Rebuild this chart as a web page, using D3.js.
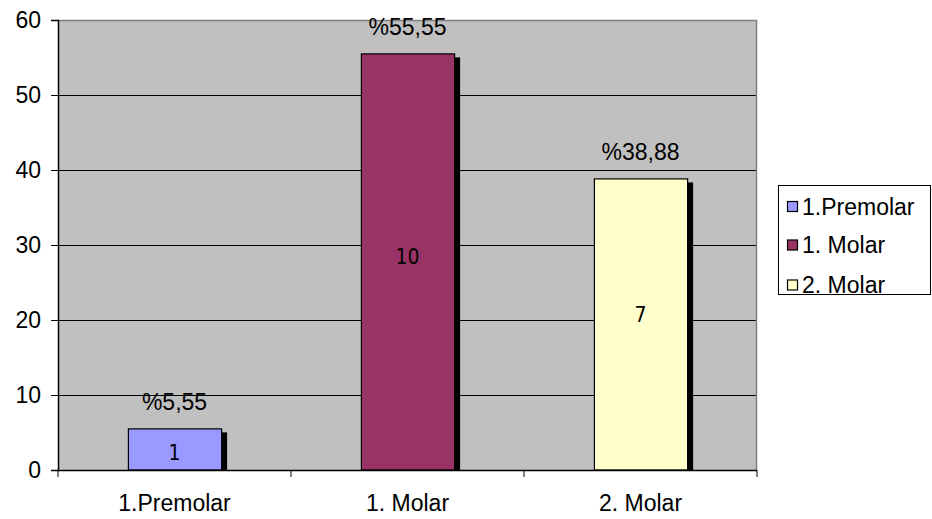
<!DOCTYPE html>
<html><head><meta charset="utf-8">
<script src="https://cdn.jsdelivr.net/npm/d3@7"></script>
<style>body{margin:0;background:#fff}svg{display:block}</style>
</head><body>
<svg id="c" width="932" height="519"></svg>
<script>
const categories = ["1.Premolar", "1. Molar", "2. Molar"];
const values = [5.55, 55.55, 38.88];
const percentLabels = ["%5,55", "%55,55", "%38,88"];
const countLabels = ["1", "10", "7"];
const countLabelPos = [2.3, 28.5, 20.7];
const colors = ["#9999FF", "#993366", "#FFFFCC"];
const yTicks = [0, 10, 20, 30, 40, 50, 60];

const svg = d3.select("#c");
const L = 58, R = 757, T = 20, B = 470;
const x = d3.scaleBand().domain(categories).range([L, R]).paddingInner(0.6).paddingOuter(0.3);
const xb = d3.scaleBand().domain(categories).range([L, R]);
const y = d3.scaleLinear().domain([0, 60]).range([B, T]);
const font = "Liberation Sans, Arial, sans-serif";

svg.append("rect").attr("x", L).attr("y", T).attr("width", R - L).attr("height", B - T).attr("fill", "#C0C0C0");
// gridlines
svg.append("g").selectAll("line").data(yTicks.filter(t => t > 0 && t < 60)).join("line")
  .attr("x1", L).attr("x2", R).attr("y1", d => y(d) + 0.5).attr("y2", d => y(d) + 0.5)
  .attr("stroke", "#000").attr("stroke-width", 1);
// top and right border
svg.append("path").attr("d", `M${L},${T + 0.5}H${R - 0.5}V${B}`).attr("fill", "none").attr("stroke", "#808080").attr("stroke-width", 1.5);

// shadows
svg.append("g").selectAll("rect").data(categories).join("rect")
  .attr("x", d => x(d) + 6).attr("y", (d, i) => y(values[i]) + 4)
  .attr("width", x.bandwidth()).attr("height", (d, i) => B - y(values[i]) - 4)
  .attr("fill", "#000");
// bars
svg.append("g").selectAll("rect").data(categories).join("rect")
  .attr("x", d => x(d) + 0.5).attr("y", (d, i) => y(values[i]) + 0.5)
  .attr("width", x.bandwidth()).attr("height", (d, i) => B - y(values[i]) - 0.5)
  .attr("fill", (d, i) => colors[i]).attr("stroke", "#000").attr("stroke-width", 1.2);

// axes
const yAxis = d3.axisLeft(y).tickValues(yTicks).tickSize(7).tickPadding(10);
const gy = svg.append("g").attr("transform", `translate(${L},0)`).call(yAxis);
gy.select(".domain").attr("stroke", "#000").attr("stroke-width", 1.5);
gy.selectAll(".tick line").attr("stroke", "#000");
gy.selectAll("text").attr("font-family", font).attr("font-size", 23).attr("fill", "#000");

const gx = svg.append("g").attr("transform", `translate(0,${B})`);
gx.append("line").attr("x1", L).attr("x2", R).attr("y1", 0.5).attr("y2", 0.5).attr("stroke", "#000").attr("stroke-width", 1.5);
gx.selectAll("line.t").data(d3.range(categories.length + 1)).join("line").attr("class", "t")
  .attr("x1", i => L + xb.step() * i).attr("x2", i => L + xb.step() * i)
  .attr("y1", 0).attr("y2", 7).attr("stroke", "#000");
gx.selectAll("text").data(categories).join("text")
  .attr("x", d => xb(d) + xb.bandwidth() / 2).attr("y", 41)
  .attr("text-anchor", "middle").attr("font-family", font).attr("font-size", 23).text(d => d);

// percent labels
svg.append("g").selectAll("text").data(categories).join("text")
  .attr("x", d => x(d) + x.bandwidth() / 2).attr("y", (d, i) => y(values[i]) - 18)
  .attr("text-anchor", "middle").attr("font-family", font).attr("font-size", 23).attr("fill", "#000")
  .text((d, i) => percentLabels[i]);
// count labels
svg.append("g").selectAll("text").data(categories).join("text")
  .attr("x", d => x(d) + x.bandwidth() / 2).attr("y", (d, i) => y(countLabelPos[i]))
  .attr("dy", "0.36em")
  .attr("text-anchor", "middle").attr("font-family", "DejaVu Sans Condensed, DejaVu Sans, sans-serif").attr("font-size", 21).attr("fill", "#000")
  .text((d, i) => countLabels[i]);

// legend
const lg = svg.append("g");
lg.append("rect").attr("x", 778.5).attr("y", 185.5).attr("width", 152).attr("height", 109).attr("fill", "#fff").attr("stroke", "#000");
const rowY = [206.5, 245, 285];
lg.selectAll("rect.s").data(categories).join("rect").attr("class", "s")
  .attr("x", 787.5).attr("y", (d, i) => rowY[i] - 5).attr("width", 10).attr("height", 10)
  .attr("fill", (d, i) => colors[i]).attr("stroke", "#000").attr("stroke-width", 1.2);
lg.selectAll("text").data(categories).join("text")
  .attr("x", 802).attr("y", (d, i) => rowY[i]).attr("dy", "0.36em")
  .attr("font-family", font).attr("font-size", 23).text(d => d);
</script>
</body></html>
